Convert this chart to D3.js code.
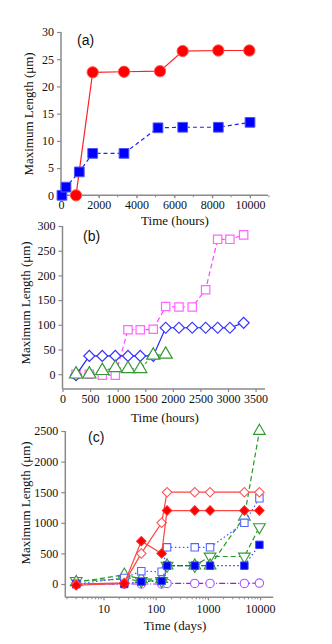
<!DOCTYPE html>
<html><head><meta charset="utf-8">
<script src="https://cdn.jsdelivr.net/npm/d3@7"></script>
<style>body{margin:0;background:#fff}svg{display:block}</style>
</head><body><svg id="c" width="332" height="644"></svg>
<script>
// ---------- Panel (a) data ----------
const aRedX = [794, 1677, 3333, 5238, 6439, 8323, 9963];
const aRedY = [0, 22.6, 22.7, 22.8, 26.5, 26.6, 26.6];
const aBlueX = [50, 265, 968, 1677, 3333, 5132, 6439, 8323, 10000];
const aBlueY = [0, 1.5, 4.3, 7.7, 7.7, 12.4, 12.5, 12.5, 13.4];
const aXTicks = [0, 2000, 4000, 6000, 8000, 10000];
const aYTicks = [0, 5, 10, 15, 20, 25, 30];

// ---------- Panel (b) data ----------
const bX = [245, 486, 721, 957, 1187, 1409, 1645, 1870, 2111, 2351, 2594, 2812, 3034, 3283];
const bDiamondY = [-2, 37, 37, 37, 37, 37, 37, 94, 94, 94, 94, 94, 94, 104];
const bSquareY = [0, 0, -2, -2, 90, 90, 91, 137, 136, 136, 171, 273, 273, 282];
const bTriangleY = [0, 0, 7, 13, 11, 11, 38, 40];
const bXTicks = [0, 500, 1000, 1500, 2000, 2500, 3000, 3500];
const bYTicks = [0, 50, 100, 150, 200, 250, 300];

// ---------- Panel (c) data ----------
const cX = [3, 25, 53, 130, 165, 560, 1100, 5000, 9700];
const cOpenDiamond = [0, 20, 500, 1000, 1500, 1500, 1500, 1500, 1500];
const cFilledDiamond = [-20, 10, 700, 500, 1200, 1200, 1200, 1200, 1200];
const cOpenSquare = [0, 100, 210, 200, 600, 600, 600, 1000, 1400];
const cFilledSquare = [0, 0, 40, 50, 300, 300, 300, 300, 640];
const cUpTriangle = [30, 150, 80, 80, 300, 300, 300, 1100, 2500];
const cDownTriangle = [50, 80, 50, 50, 300, 300, 450, 450, 930];
const cCircle = [0, 0, 0, 0, 10, 10, 10, 10, 15];
const cXTicks = [10, 100, 1000, 10000];
const cYTicks = [0, 500, 1000, 1500, 2000, 2500];

const svg = d3.select("#c");
const AX = "#8a8a8a";
const SERIF = "'Liberation Serif','Times New Roman',serif";
const SANS = "'Liberation Sans',Arial,sans-serif";

function zip(xs, ys){ return ys.map((y,i)=>[xs[i], y]); }

function drawAxes(g, x, y, opts){
  const [x0,x1] = x.range(), [y0,y1] = y.range();
  const ya = g.append("g").attr("transform",`translate(${x0},0)`)
    .call(d3.axisLeft(y).tickValues(opts.yTicks).tickSize(4).tickPadding(3).tickFormat(d3.format("d")));
  ya.select(".domain").remove();
  g.append("line").attr("x1",x0).attr("x2",x0).attr("y1",y0).attr("y2",y1).attr("stroke",AX).attr("stroke-width",1.5);
  const xa = g.append("g").attr("transform",`translate(0,${y0})`)
    .call(d3.axisBottom(x).tickValues(opts.xTicks).tickSize(3).tickPadding(opts.xPad||2).tickFormat(d3.format("d")));
  xa.select(".domain").remove();
  if (opts.minor){
    g.append("g").selectAll("line").data(opts.minor).join("line")
      .attr("x1",d=>x(d)).attr("x2",d=>x(d)).attr("y1",y0).attr("y2",y0+2).attr("stroke",AX).attr("stroke-width",1);
  }
  g.append("line").attr("x1",x0).attr("x2",x1).attr("y1",y0).attr("y2",y0).attr("stroke",AX).attr("stroke-width",1.5);
  [ya,xa].forEach(a=>{
    a.selectAll(".tick line").attr("stroke",AX).attr("stroke-width",1.2);
    a.selectAll(".tick text").attr("fill","#111").attr("font-family",SERIF).attr("font-size",12);
  });
  g.append("text").attr("transform",`translate(${opts.ylx},${opts.yly}) rotate(-90)`)
    .attr("text-anchor","middle").attr("dominant-baseline","middle")
    .attr("font-family",SERIF).attr("font-size",13).attr("fill","#111").text("Maximum Length (μm)");
  g.append("text").attr("x",opts.xlx).attr("y",opts.xly).attr("text-anchor","middle").attr("dominant-baseline","middle")
    .attr("font-family",SERIF).attr("font-size",13).attr("fill","#111").text(opts.xlabel);
  g.append("text").attr("x",opts.plx).attr("y",opts.ply)
    .attr("font-family",SANS).attr("font-size",14).attr("fill","#111").text(opts.panel);
}

function series(g, x, y, pts, st){
  const line = d3.line().x(d=>x(d[0])).y(d=>y(d[1]));
  g.append("path").attr("d",line(pts)).attr("fill","none").attr("stroke",st.line)
    .attr("stroke-width",st.lw||1.2).attr("stroke-dasharray",st.dash||null);
  const sym = d3.symbol().type(st.type).size(st.size);
  g.append("g").selectAll("path").data(pts).join("path")
    .attr("transform",d=>`translate(${x(d[0])},${y(d[1])})${st.rot?" rotate("+st.rot+")":""}`)
    .attr("d",sym)
    .attr("fill",st.fill).attr("stroke",st.stroke).attr("stroke-width",st.sw||1.2);
}

// ---------- Panel (a) ----------
{
  const g = svg.append("g");
  const x = d3.scaleLinear().domain([0, 10952]).range([61, 268]);
  const y = d3.scaleLinear().domain([0, 30]).range([195.3, 32]);
  drawAxes(g, x, y, {xTicks:aXTicks, yTicks:aYTicks, minor:d3.range(1000,11001,1000),
    ylx:30, yly:114, xlx:175, xly:222, xlabel:"Time (hours)", plx:77, ply:45, panel:"(a)"});
  series(g, x, y, zip(aRedX, aRedY), {line:"#ff2020", type:d3.symbolCircle, size:100, fill:"#ff0000", stroke:"#ff5555", sw:1});
  series(g, x, y, zip(aBlueX, aBlueY), {line:"#2020ff", dash:"4,3", type:d3.symbolSquare, size:95, fill:"#0000ff", stroke:"#5555ff", sw:1});
}

// ---------- Panel (b) ----------
{
  const g = svg.append("g");
  const x = d3.scaleLinear().domain([0, 3670]).range([62.5, 265]);
  const y = d3.scaleLinear().domain([-30, 300]).range([389, 226]);
  drawAxes(g, x, y, {xTicks:bXTicks, yTicks:bYTicks,
    ylx:27, yly:303, xlx:165, xly:419, xlabel:"Time (hours)", plx:83, ply:241, panel:"(b)"});
  series(g, x, y, zip(bX, bSquareY), {line:"#ff44ff", dash:"5,3", type:d3.symbolSquare, size:70, fill:"#fff", stroke:"#ff66ff", sw:1.2});
  series(g, x, y, zip(bX, bDiamondY), {line:"#2222ff", type:d3.symbolSquare, size:60, rot:45, fill:"#fff", stroke:"#3333ff", sw:1.2});
  series(g, x, y, zip(bX, bTriangleY), {line:"#33aa33", dash:"3,2,1,2", type:d3.symbolTriangle, size:75, fill:"#fff", stroke:"#339933", sw:1.2});
}

// ---------- Panel (c) ----------
{
  const g = svg.append("g");
  const x = d3.scaleLog().domain([Math.pow(10,0.268), Math.pow(10,4.253)]).range([65.3, 273.3]);
  const y = d3.scaleLinear().domain([-217, 2500]).range([597.3, 431]);
  const minor = [];
  [1,10,100,1000,10000].forEach(b=>{ for(let k=2;k<10;k++){ const v=b*k; if(v>=x.domain()[0] && v<=x.domain()[1]) minor.push(v);} });
  drawAxes(g, x, y, {xTicks:cXTicks, yTicks:cYTicks, minor, xPad:4,
    ylx:27, yly:503, xlx:175, xly:627, xlabel:"Time (days)", plx:88, ply:442, panel:"(c)"});
  series(g, x, y, zip(cX, cCircle), {line:"#8822ee", dash:"6,2,1,2", type:d3.symbolCircle, size:55, fill:"#fff", stroke:"#aa55ff", sw:1.1});
  series(g, x, y, zip(cX, cDownTriangle), {line:"#229922", dash:"5,3", type:d3.symbolTriangle, rot:180, size:60, fill:"#fff", stroke:"#339933", sw:1.1});
  series(g, x, y, zip(cX, cUpTriangle), {line:"#229922", dash:"5,3", type:d3.symbolTriangle, size:60, fill:"#fff", stroke:"#339933", sw:1.1});
  series(g, x, y, zip(cX, cOpenSquare), {line:"#4455ff", dash:"1.5,2.5", type:d3.symbolSquare, size:55, fill:"#fff", stroke:"#5566ff", sw:1.1});
  series(g, x, y, zip(cX, cFilledSquare), {line:"#2233ff", dash:"1.5,2.5", type:d3.symbolSquare, size:55, fill:"#0000ee", stroke:"#3344ff", sw:1});
  series(g, x, y, zip(cX, cOpenDiamond), {line:"#ff4444", type:d3.symbolSquare, size:45, rot:45, fill:"#fff", stroke:"#ff5555", sw:1.1});
  series(g, x, y, zip(cX, cFilledDiamond), {line:"#ff4444", type:d3.symbolSquare, size:45, rot:45, fill:"#ff0000", stroke:"#ff2222", sw:1});
}
</script></body></html>
